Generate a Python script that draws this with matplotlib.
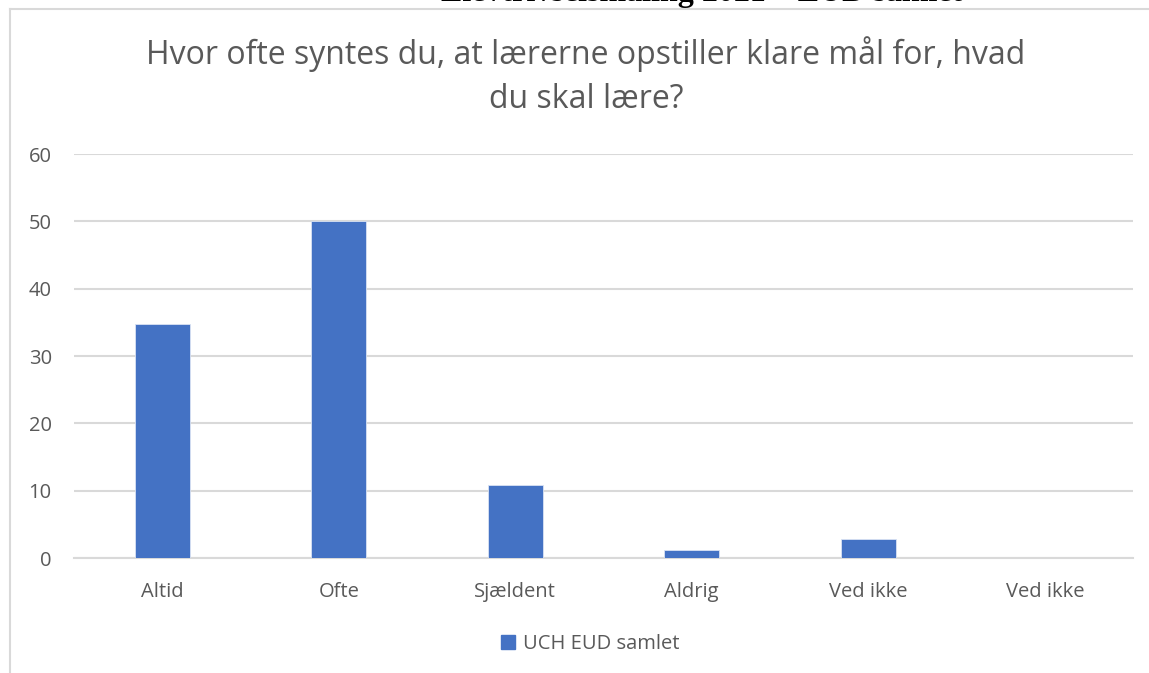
import matplotlib.pyplot as plt
from matplotlib.lines import Line2D
from matplotlib.patches import Patch

# data
categories = ["Altid", "Ofte", "Sjældent", "Aldrig", "Ved ikke", "Ved ikke"]
values = [34.8, 50.1, 10.8, 1.2, 2.8, 0]
yticks = [0, 10, 20, 30, 40, 50, 60]
series_name = "UCH EUD samlet"
title = "Hvor ofte syntes du, at lærerne opstiller klare mål for, hvad\ndu skal lære?"
header = "Elevtrivselsmåling 2021 – EUD samlet"

W, H = 1149, 673
fig = plt.figure(figsize=(W / 100, H / 100), dpi=100)
plt.rcParams["font.family"] = ["Open Sans", "DejaVu Sans"]
txt_col = "#595959"
grid_col = "#d9d9d9"
bar_col = "#4472c4"

# page header, cut off by the top edge as in the reference
fig.text(702 / W, 1 - 1 / H, header, ha="center", va="baseline", fontsize=23,
         fontweight="bold", family=["Liberation Serif", "DejaVu Serif"], color="black")

# chart frame (only top and left edges visible)
fig.add_artist(Line2D([10 / W, 10 / W], [0, 1 - 9 / H], transform=fig.transFigure,
                      color=grid_col, lw=1.5))
fig.add_artist(Line2D([10 / W, 1], [1 - 9 / H, 1 - 9 / H], transform=fig.transFigure,
                      color=grid_col, lw=1.5))

ax = fig.add_axes([74 / W, 1 - 558 / H, (1133 - 74) / W, (558 - 154) / H])
x = range(len(categories))
ax.bar(x, values, width=0.31, color=bar_col, edgecolor="#dae3f3", linewidth=0.6, zorder=3)
ax.set_xlim(-0.5, len(categories) - 0.5)
ax.set_ylim(0, 60)
ax.set_yticks(yticks)
ax.set_xticks(list(x))
ax.set_xticklabels(categories)
ax.grid(axis="y", color=grid_col, lw=1.5, zorder=0)
for s in ["top", "right", "left"]:
    ax.spines[s].set_visible(False)
ax.spines["bottom"].set_color(grid_col)
ax.spines["bottom"].set_linewidth(1.5)
ax.tick_params(axis="both", length=0, labelsize=14.5, colors=txt_col)
ax.tick_params(axis="x", pad=17)
ax.tick_params(axis="y", pad=16)

fig.text(586 / W, 1 - 76 / H, title, ha="center", va="center", fontsize=23,
         color=txt_col, linespacing=1.45)

leg = fig.legend(handles=[Patch(color=bar_col, label=series_name)],
                 loc="center", bbox_to_anchor=(590 / W, 1 - 644 / H), frameon=False,
                 fontsize=14.5, handlelength=0.7, handleheight=0.7, handletextpad=0.4)
for t in leg.get_texts():
    t.set_color(txt_col)

fig.savefig("out.png", dpi=100, facecolor="white")
